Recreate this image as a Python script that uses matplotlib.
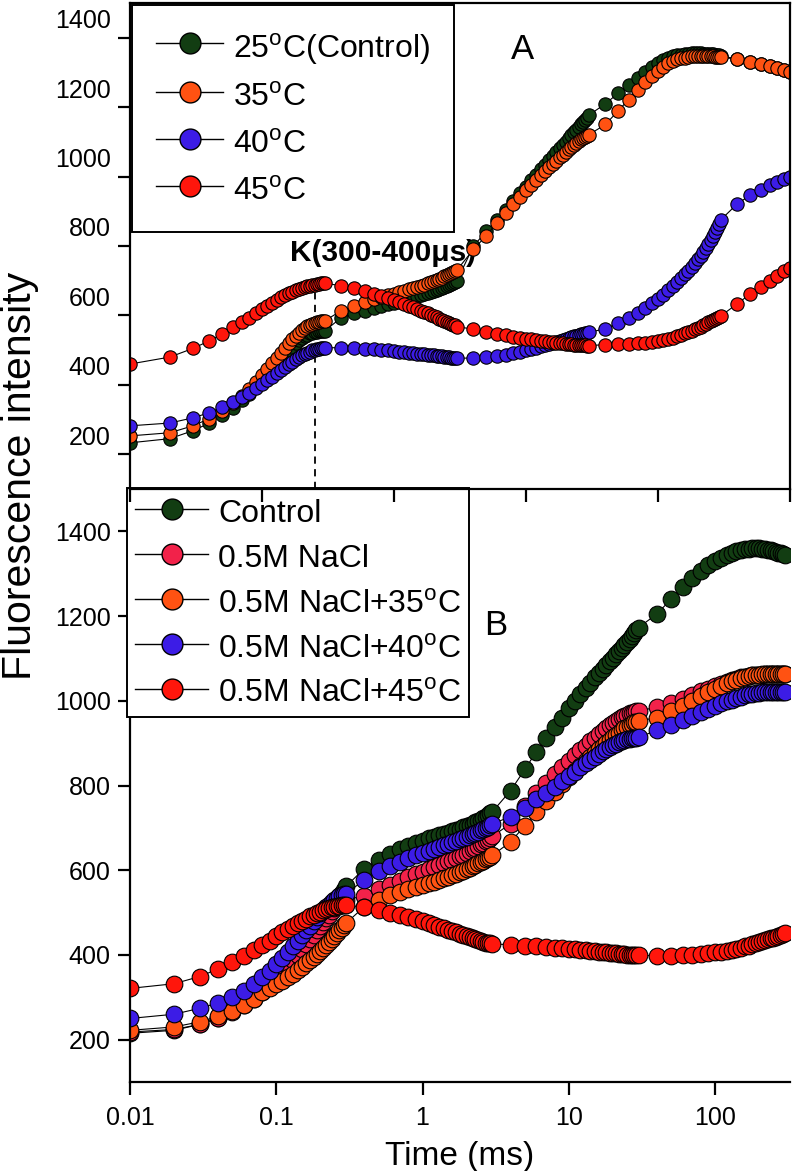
import matplotlib
matplotlib.use("Agg")
import matplotlib.pyplot as plt
from matplotlib.lines import Line2D
from matplotlib.transforms import ScaledTranslation

plt.rcParams['font.family'] = ['Liberation Sans', 'DejaVu Sans']
plt.rcParams['mathtext.fontset'] = 'custom'
plt.rcParams['mathtext.rm'] = 'Liberation Sans'

# sampling times (ms)
T_SEG1 = [0.01, 0.02, 0.03, 0.04, 0.05, 0.06, 0.07, 0.08, 0.09, 0.10,
          0.11, 0.12, 0.13, 0.14, 0.15, 0.16, 0.17, 0.18, 0.19, 0.20,
          0.21, 0.22, 0.23, 0.24, 0.25, 0.26, 0.27, 0.28, 0.29, 0.30]
T_SEG2 = [0.4, 0.5, 0.6, 0.7, 0.8, 0.9, 1.0, 1.1, 1.2, 1.3, 1.4, 1.5, 1.6, 1.7,
          1.8, 1.9, 2.0, 2.1, 2.2, 2.3, 2.4, 2.5, 2.6, 2.7, 2.8, 2.9, 3.0]
T_SEG3 = [4, 5, 6, 7, 8, 9, 10, 11, 12, 13, 14, 15, 16, 17, 18, 19, 20,
          21, 22, 23, 24, 25, 26, 27, 28, 29, 30]
T_SEG4 = [40, 50, 60, 70, 80, 90, 100, 110, 120, 130, 140, 150, 160, 170,
          180, 190, 200, 210, 220, 230, 240, 250, 260, 270, 280, 290, 300]
T_SEG5 = [400, 500, 600, 700, 800, 900, 1000]

time_a = T_SEG1 + T_SEG2 + T_SEG3 + T_SEG4 + T_SEG5
time_b = T_SEG1 + T_SEG2 + T_SEG3 + T_SEG4

# ---- panel A: temperature series ----
a_25 = [233, 245, 268, 290, 312, 334, 355, 375, 394, 412, 429, 445, 460, 474, 487,
        499, 510, 520, 528, 535, 541, 545, 548, 550, 552, 553, 554, 555, 556, 556,
        594, 606, 614, 621, 627, 632, 637, 641, 645, 649, 652, 655, 658, 661, 664,
        667, 670, 673, 676, 679, 682, 685, 688, 691, 694, 697, 700,
        800, 842, 876, 905, 930, 952, 971, 989, 1005, 1021, 1034, 1047, 1059, 1071,
        1081, 1092, 1101, 1110, 1119, 1127, 1135, 1143, 1150, 1157, 1164, 1170, 1177,
        1210, 1240, 1265, 1285, 1300, 1315, 1326, 1335, 1341, 1346, 1349, 1351, 1353,
        1354, 1355, 1355, 1355, 1355, 1354, 1354, 1353, 1353, 1352, 1351, 1350, 1349, 1348,
        1338, 1331, 1325, 1318, 1312, 1306, 1300]
a_35 = [253, 262, 282, 303, 325, 347, 368, 388, 408, 427, 445, 462, 478, 493, 507,
        520, 531, 541, 550, 558, 564, 569, 573, 576, 579, 581, 582, 583, 584, 585,
        614, 628, 638, 646, 652, 658, 663, 667, 671, 675, 679, 682, 686, 689, 692,
        696, 699, 702, 706, 709, 713, 716, 719, 722, 725, 728, 731,
        790, 830, 866, 896, 921, 942, 961, 977, 991, 1004, 1016, 1027, 1037, 1046,
        1055, 1063, 1071, 1078, 1085, 1091, 1097, 1102, 1107, 1111, 1115, 1118, 1121,
        1150, 1190, 1222, 1249, 1272, 1290, 1305, 1316, 1326, 1333, 1338, 1341, 1343,
        1345, 1346, 1347, 1347, 1347, 1347, 1347, 1346, 1346, 1346, 1345, 1345, 1345, 1344,
        1338, 1331, 1325, 1318, 1312, 1306, 1300]
a_40 = [282, 290, 305, 320, 335, 350, 364, 377, 390, 402, 413, 424, 434, 443, 452,
        460, 467, 474, 480, 485, 489, 493, 496, 499, 501, 503, 504, 505, 506, 507,
        507, 506, 504, 502, 500, 499, 497, 496, 494, 493, 491, 490, 489, 488, 487,
        486, 485, 484, 483, 482, 481, 480, 479, 478, 478, 477, 476,
        478, 481, 484, 487, 491, 495, 499, 503, 507, 511, 515, 518, 521, 524,
        527, 530, 533, 536, 538, 540, 542, 544, 546, 547, 549, 550, 551,
        562, 578, 593, 607, 621, 635, 648, 660, 672, 684, 696, 707, 718,
        729, 740, 751, 762, 772, 783, 793, 806, 818, 830, 841, 853, 864, 876,
        922, 946, 962, 975, 985, 992, 998]
a_45 = [460, 480, 505, 527, 547, 566, 582, 594, 607, 618, 628, 637, 645, 652, 658,
        664, 668, 673, 676, 679, 682, 684, 686, 688, 689, 690, 691, 692, 692, 692,
        686, 678, 670, 663, 656, 650, 644, 638, 633, 628, 623, 619, 614, 610, 606,
        602, 598, 595, 591, 588, 585, 582, 579, 576, 573, 571, 568,
        560, 553, 547, 543, 539, 536, 533, 531, 529, 527, 526, 524, 523, 522,
        521, 520, 519, 518, 517, 516, 516, 515, 515, 514, 514, 513, 513,
        516, 517, 518, 520, 522, 524, 527, 530, 533, 536, 540, 544, 548,
        552, 556, 560, 564, 568, 572, 576, 580, 584, 587, 590, 593, 596, 599,
        634, 662, 682, 700, 715, 727, 738]

# ---- panel B: salt + temperature series ----
b_ctrl = [215, 222, 236, 252, 268, 285, 302, 318, 334, 349, 364, 378, 392, 405, 418,
          430, 442, 453, 464, 474, 484, 493, 502, 511, 520, 529, 538, 546, 554, 562,
          604, 625, 639, 650, 658, 665, 670, 675, 679, 683, 686, 689, 692, 695, 698,
          701, 704, 707, 710, 713, 716, 719, 723, 726, 730, 734, 738,
          788, 838, 880, 912, 938, 960, 983, 1000, 1016, 1030, 1043, 1055, 1066, 1076,
          1085, 1094, 1102, 1110, 1117, 1124, 1131, 1138, 1145, 1152, 1159, 1166, 1173,
          1205, 1240, 1268, 1290, 1307, 1320, 1330, 1338, 1344, 1349, 1353, 1356, 1358,
          1359, 1360, 1360, 1360, 1359, 1358, 1357, 1356, 1354, 1352, 1350, 1348, 1346, 1344]
b_nacl = [218, 224, 236, 250, 265, 281, 297, 313, 329, 344, 359, 373, 387, 400, 413,
          425, 437, 448, 459, 469, 478, 487, 495, 503, 510, 516, 521, 525, 528, 530,
          540, 555, 566, 575, 583, 590, 596, 602, 607, 612, 617, 621, 625, 629, 633,
          637, 641, 645, 649, 653, 657, 661, 665, 668, 672, 676, 680,
          710, 752, 782, 806, 826, 843, 858, 871, 883, 894, 904, 913, 921, 929,
          936, 942, 948, 953, 957, 961, 964, 967, 970, 972, 974, 975, 976,
          985, 995, 1005, 1014, 1022, 1029, 1035, 1040, 1045, 1049, 1052, 1055, 1057,
          1059, 1060, 1061, 1062, 1062, 1063, 1063, 1063, 1063, 1063, 1063, 1063, 1063, 1063]
b_nacl35 = [222, 230, 242, 255, 268, 282, 297, 313, 322, 331, 339, 347, 356, 364, 372,
            380, 388, 395, 402, 410, 417, 424, 431, 438, 445, 452, 458, 464, 470, 475,
            514, 530, 541, 549, 555, 560, 565, 569, 573, 577, 581, 584, 588, 591, 595,
            598, 602, 605, 609, 612, 616, 619, 622, 626, 629, 632, 635,
            667, 705, 737, 763, 785, 803, 820, 834, 847, 858, 868, 877, 886, 894,
            901, 908, 914, 920, 925, 930, 935, 939, 943, 946, 949, 951, 953,
            960, 975, 988, 1000, 1011, 1020, 1028, 1035, 1041, 1046, 1050, 1053, 1056,
            1058, 1060, 1061, 1062, 1063, 1064, 1064, 1064, 1064, 1064, 1064, 1064, 1064, 1064]
b_nacl40 = [250, 260, 274, 287, 300, 315, 331, 347, 363, 378, 393, 407, 421, 434, 446,
            458, 469, 479, 489, 498, 506, 513, 519, 525, 530, 534, 538, 541, 543, 545,
            577, 597, 610, 620, 628, 635, 641, 646, 651, 655, 659, 663, 666, 670, 673,
            676, 679, 682, 685, 688, 691, 694, 697, 700, 703, 706, 710,
            726, 748, 767, 783, 797, 810, 822, 833, 843, 852, 860, 868, 875, 881,
            886, 891, 895, 899, 902, 905, 907, 909, 910, 911, 912, 913, 914,
            930, 943, 954, 964, 973, 981, 988, 994, 999, 1003, 1007, 1010, 1013,
            1015, 1017, 1018, 1019, 1020, 1021, 1021, 1021, 1021, 1021, 1021, 1020, 1020, 1020]
b_nacl45 = [321, 332, 349, 367, 383, 398, 411, 423, 434, 444, 453, 461, 468, 475, 481,
            486, 491, 495, 499, 502, 505, 508, 510, 512, 514, 515, 516, 517, 518, 518,
            512, 505, 499, 494, 489, 484, 479, 475, 471, 467, 463, 460, 456, 453, 450,
            447, 444, 442, 439, 437, 435, 433, 431, 429, 428, 427, 426,
            424, 422, 420, 418, 417, 416, 414, 413, 412, 411, 410, 409, 408, 407,
            406, 405, 404, 404, 403, 402, 402, 401, 401, 400, 400, 399, 399,
            398, 398, 399, 400, 402, 404, 406, 408, 410, 412, 415, 417, 420,
            422, 425, 427, 430, 432, 435, 437, 439, 441, 443, 445, 447, 449, 451]

labels_a = ['25$^{\\rm o}$C(Control)', '35$^{\\rm o}$C', '40$^{\\rm o}$C', '45$^{\\rm o}$C']
labels_b = ['Control', '0.5M NaCl', '0.5M NaCl+35$^{\\rm o}$C',
            '0.5M NaCl+40$^{\\rm o}$C', '0.5M NaCl+45$^{\\rm o}$C']
yticks = [200, 400, 600, 800, 1000, 1200, 1400]
k_time = 0.25  # position of K step marker (ms)

GREEN = '#123d12'
ORANGE = '#ff5212'
BLUE = '#3c1ce6'
RED = '#ff160c'
PINK = '#f2224a'

W, H = 793, 1171
fig = plt.figure(figsize=(W / 100, H / 100), dpi=100)
x0, x1 = 130 / W, 790 / W
ax_b = fig.add_axes([x0, 1 - 1082 / H, x1 - x0, (1082 - 489) / H])
ax_a = fig.add_axes([x0, 1 - 489 / H, x1 - x0, (489 - 3) / H])
ax_b.set_facecolor('none')
ax_a.set_facecolor('none')


def draw(ax, t, ys, colors, ms):
    for y, c in zip(ys, colors):
        ax.plot(t, y, '-', color='black', lw=0.8, marker='o', ms=ms,
                mfc=c, mec='black', mew=0.8)


draw(ax_a, time_a, [a_25, a_35, a_40, a_45], [GREEN, ORANGE, BLUE, RED], 9.6)
draw(ax_b, time_b, [b_ctrl, b_nacl, b_nacl35, b_nacl40, b_nacl45],
     [GREEN, PINK, ORANGE, BLUE, RED], 12)

for ax in (ax_a, ax_b):
    ax.set_xscale('log')
    ax.set_ylim(100, 1500)
    ax.set_yticks(yticks)
    ax.minorticks_off()
    for s in ax.spines.values():
        s.set_linewidth(1.6)
    ax.tick_params(axis='both', which='major', direction='out', length=9,
                   width=1.6, labelsize=18, pad=5)

ax_a.set_xlim(0.01, 1000)
ax_a.set_xticks([0.01, 0.1, 1, 10, 100, 1000])
ax_a.tick_params(axis='x', labelbottom=False)
# panel A tick labels sit a little above their ticks
for lab in ax_a.get_yticklabels():
    lab.set_transform(lab.get_transform() + ScaledTranslation(0, 0.19, fig.dpi_scale_trans))

ax_b.set_xlim(0.01, 325)
ax_b.set_xticks([0.01, 0.1, 1, 10, 100])
ax_b.set_xticklabels(['0.01', '0.1', '1', '10', '100'])
ax_b.tick_params(axis='x', pad=8)
ax_b.spines['top'].set_visible(False)
ax_b.spines['right'].set_visible(False)
ax_b.set_xlabel('Time (ms)', fontsize=24, labelpad=8)

ax_a.plot([k_time, k_time], [100, 690], color='black', lw=1.3, ls=(0, (4, 3)), zorder=1)
ax_a.text(0.83, 779, 'K(300-400μs)', fontsize=21.5, fontweight='bold',
          ha='center', va='center', zorder=1)
ax_a.text(0.594, 0.905, 'A', transform=ax_a.transAxes, fontsize=25, ha='center', va='center')
ax_b.text(0.554, 0.77, 'B', transform=ax_b.transAxes, fontsize=25, ha='center', va='center')

fig.text(20 / W, 1 - 476 / H, 'Fluorescence intensity', rotation=90,
         fontsize=29.5, ha='center', va='center')


def handles(colors):
    return [Line2D([], [], color='black', lw=1.0, marker='o', ms=15,
                   mfc=c, mec='black', mew=1.0) for c in colors]


leg_a = ax_a.legend(handles([GREEN, ORANGE, BLUE, RED]), labels_a,
                    loc='upper left', bbox_to_anchor=(132 / W, 1 - 5 / H),
                    bbox_transform=fig.transFigure, borderaxespad=0,
                    fontsize=23, fancybox=False, edgecolor='black', framealpha=1,
                    handlelength=2.1, handleheight=1.38, handletextpad=0.3,
                    labelspacing=0.33, borderpad=0.75)
leg_a.get_frame().set_linewidth(1.4)
leg_b = ax_b.legend(handles([GREEN, PINK, ORANGE, BLUE, RED]), labels_b,
                    loc='upper left', bbox_to_anchor=(127 / W, 1 - 488 / H),
                    bbox_transform=fig.transFigure, borderaxespad=0,
                    fontsize=23, fancybox=False, edgecolor='black', framealpha=1,
                    handlelength=2.3, handleheight=1.13, handletextpad=0.3,
                    labelspacing=0.36, borderpad=0.25)
leg_b.get_frame().set_linewidth(1.4)

fig.savefig('out.png', dpi=100)
